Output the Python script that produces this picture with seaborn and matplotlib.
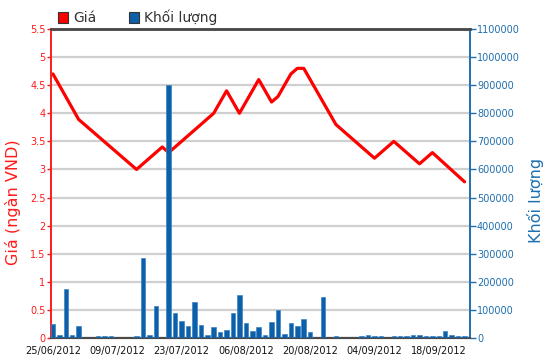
import matplotlib
matplotlib.use("Agg")
import matplotlib.pyplot as plt
import seaborn as sns
import numpy as np
from matplotlib.patches import Rectangle

# ---- data ----
day_index = list(range(65))
volume = [50000, 9000, 176000, 9000, 44000, 0, 0, 6000, 6000, 6000,
          0, 0, 0, 6000, 286000, 12000, 114000, 0, 900000, 88000,
          62000, 44000, 128000, 48000, 12000, 39000, 22000, 28000, 90000, 153000,
          52000, 25000, 38000, 12000, 56000, 100000, 15000, 52000, 43000, 66000,
          22000, 0, 145000, 0, 6000, 0, 0, 0, 6000, 10000,
          6000, 6000, 0, 6000, 6000, 6000, 11000, 11000, 6000, 6000,
          6000, 26000, 10000, 6000, 6000]
price_index = [0, 4, 13, 17, 18, 25, 27, 29, 32, 34, 35, 37, 38, 39, 44, 50, 53, 57, 59, 64]
price = [4.70, 3.89, 3.0, 3.4, 3.3, 4.0, 4.4, 4.0, 4.6, 4.2, 4.3, 4.7, 4.8, 4.8, 3.8, 3.2, 3.5, 3.1, 3.3, 2.78]
tick_index = [0, 10, 20, 30, 40, 50, 60]
tick_labels = ["25/06/2012", "09/07/2012", "23/07/2012", "06/08/2012",
               "20/08/2012", "04/09/2012", "18/09/2012"]
left_ticks = [0, 0.5, 1, 1.5, 2, 2.5, 3, 3.5, 4, 4.5, 5, 5.5]
right_ticks = list(range(0, 1100001, 100000))

sns.set_style("white")
plt.rcParams['font.family'] = ['DejaVu Sans']

RED = "#ff1a1a"
BLUE = "#1f6fae"
BAR = "#0d5fa8"
GRID = "#cfcfcf"
DARK = "#4a4a4a"

W, H = 550, 364
fig = plt.figure(figsize=(5.5, 3.64), dpi=100)
L, R, T, B = 51, 470, 29, 338
ax = fig.add_axes([L / W, 1 - B / H, (R - L) / W, (B - T) / H])
ax2 = ax.twinx()

# line on left axis
sns.lineplot(x=price_index, y=price, ax=ax, color="#ff0000", linewidth=2.3, zorder=3)

# bars on right axis
sns.barplot(x=day_index, y=volume, ax=ax2, native_scale=True, width=0.7,
            color=BAR, saturation=1, edgecolor="#3a85c8", linewidth=0.5, zorder=3)

ax.set_xlim(-0.3, 64.85)
ax2.set_xlim(-0.3, 64.85)
ax.set_ylim(0, 5.5)
ax2.set_ylim(0, 1100000)

ax.set_yticks(left_ticks)
ax.set_yticklabels([("%g" % v) for v in left_ticks], color=RED, fontsize=7)
ax2.set_yticks(right_ticks)
ax2.set_yticklabels([str(v) for v in right_ticks], color=BLUE, fontsize=7)
ax.set_xticks(tick_index)
ax.set_xticklabels(tick_labels, fontsize=7, color="#111111")
ax2.set_xticks(tick_index)

ax.grid(axis="y", color=GRID, linewidth=1.6, zorder=0)
ax.grid(axis="x", visible=False)
ax2.grid(False)
ax.set_axisbelow(True)

ax.tick_params(axis="y", direction="out", length=3, width=1, color=RED, pad=1)
ax2.tick_params(axis="y", direction="out", length=4, width=1, color=BLUE, pad=1)
ax.tick_params(axis="x", direction="out", length=4, width=1, color="#333333", pad=2)
ax2.tick_params(axis="x", length=0)

for a in (ax, ax2):
    a.spines["top"].set_color(DARK)
    a.spines["top"].set_linewidth(1.8)
    a.spines["bottom"].set_color(DARK)
    a.spines["bottom"].set_linewidth(1.5)
    a.spines["left"].set_color(RED)
    a.spines["left"].set_linewidth(1.2)
    a.spines["right"].set_color(BLUE)
    a.spines["right"].set_linewidth(1.2)
    a.set_xlabel("")

ax.set_ylabel("")
ax2.set_ylabel("")
ax.patch.set_alpha(0)

fig.text(13 / W, 1 - 202 / H, "Giá (ngàn VND)", rotation=90, color=RED,
         fontsize=11.5, ha="center", va="center")
fig.text(536 / W, 1 - 200 / H, "Khối lượng", rotation=90, color=BLUE,
         fontsize=11.5, ha="center", va="center")

# legend
fig.patches.append(Rectangle((58 / W, 1 - 23 / H), 10 / W, 11 / H, transform=fig.transFigure,
                             facecolor="#ff0000", edgecolor="#333333", linewidth=0.8))
fig.text(73 / W, 1 - 17.5 / H, "Giá", fontsize=10, color="#333333", va="center", ha="left")
fig.patches.append(Rectangle((129 / W, 1 - 23 / H), 10 / W, 11 / H, transform=fig.transFigure,
                             facecolor=BAR, edgecolor="#333333", linewidth=0.8))
fig.text(144 / W, 1 - 17.5 / H, "Khối lượng", fontsize=10, color="#333333", va="center", ha="left")

fig.savefig("out.png", dpi=100)
